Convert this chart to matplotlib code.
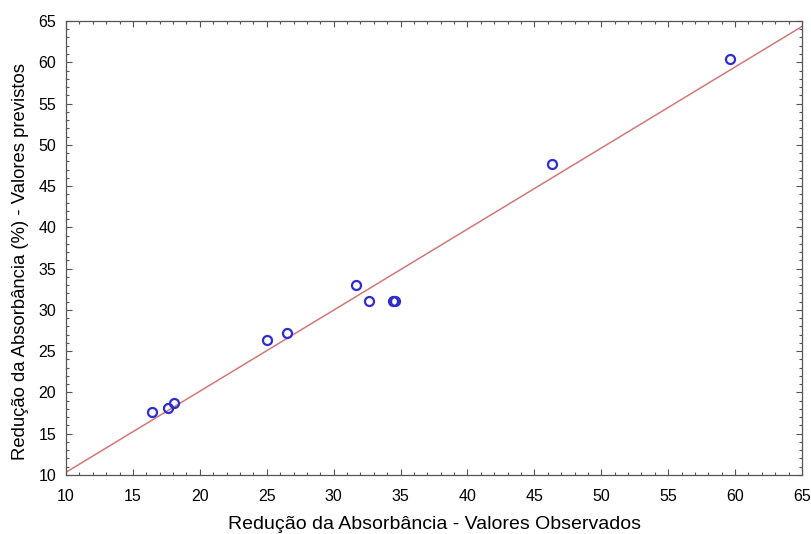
import matplotlib
matplotlib.use("Agg")
import matplotlib.pyplot as plt
from matplotlib.ticker import MultipleLocator

plt.rcParams['font.family'] = ['Liberation Sans', 'DejaVu Sans']

observados = [16.4, 17.6, 18.1, 25.0, 26.5, 31.65, 32.65, 34.45, 34.6, 46.3, 59.6]
previstos = [17.6, 18.15, 18.7, 26.3, 27.2, 33.0, 31.1, 31.1, 31.1, 47.7, 60.4]

# fitted line ends
linha_x = [10, 65]
linha_y = [10.33, 64.34]

fig = plt.figure(figsize=(8.12, 5.34), dpi=100)
ax = fig.add_axes([0.0813, 0.1105, 0.9064, 0.8502])

ax.plot(linha_x, linha_y, color='#d27878', lw=1.1, zorder=2)
ax.plot(observados, previstos, 'o', mfc='none', mec='#2e2ed0', mew=1.6, ms=6.5, zorder=3)

ax.set_xlim(10, 65)
ax.set_ylim(10, 65)
ax.xaxis.set_major_locator(MultipleLocator(5))
ax.yaxis.set_major_locator(MultipleLocator(5))
ax.xaxis.set_minor_locator(MultipleLocator(1))
ax.yaxis.set_minor_locator(MultipleLocator(1))
ax.tick_params(which='both', direction='in', top=True, right=True, color='#555555', width=0.8)
ax.tick_params(which='major', length=4, labelsize=11.5)
ax.tick_params(which='minor', length=2.5)
ax.tick_params(axis='x', which='major', pad=10)
ax.tick_params(axis='y', which='major', pad=7)
for s in ax.spines.values():
    s.set_color('#555555')
    s.set_linewidth(0.9)

ax.set_xlabel('Redução da Absorbância - Valores Observados', fontsize=14, labelpad=9)
ax.set_ylabel('Redução da Absorbância (%) - Valores previstos', fontsize=13.3, labelpad=6.5)
ax.yaxis.label.set_y(0.47)

fig.savefig('out.png', dpi=100)
